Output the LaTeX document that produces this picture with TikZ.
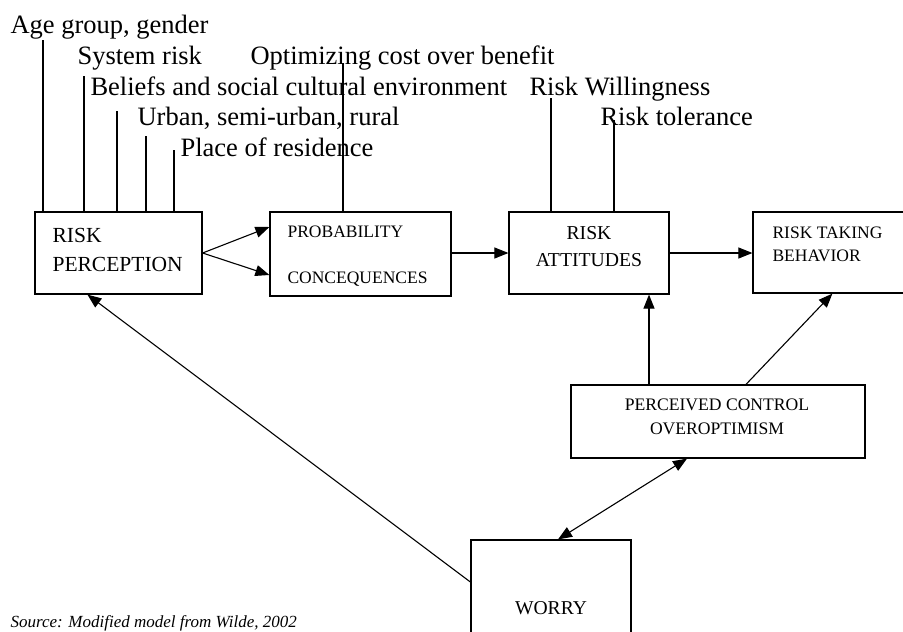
\documentclass[tikz,border=0pt]{standalone}
\usepackage{fontspec}
\setmainfont{Liberation Serif}
\usetikzlibrary{arrows.meta, positioning}
\tikzstyle{block} = [draw, line width=1.2pt, inner sep=0pt]
\tikzstyle{arrow} = [line width=1.1pt, -{Triangle[length=14pt,width=11pt]}]
\tikzstyle{factor} = [anchor=base west, inner sep=0pt, font=\fontsize{26.5}{30}\selectfont]
\tikzstyle{caps} = [inner sep=0pt, align=left]

\begin{document}
\begin{tikzpicture}[x=1pt,y=-1pt,line width=1.1pt]
\useasboundingbox (0,0) rectangle (903,632);
% boxes
\node[block, minimum width=167, minimum height=82] (rp) at (118.5,253) {};
\node[block, minimum width=181, minimum height=84] (prob) at (360.5,254) {};
\node[block, minimum width=160, minimum height=82] (ra) at (589,253) {};
\node[block, minimum width=197, minimum height=81] (rtb) at (851.5,252.5) {};
\node[block, minimum width=294, minimum height=73] (pc) at (718,421.5) {};
\node[block, minimum width=160, minimum height=160] (worry) at (551,620) {};
% box texts (base = last line)
\node[caps, anchor=base west, font=\fontsize{21.5}{29}\selectfont] (rptxt) at (52,271) {RISK\\PERCEPTION};
\node[caps, anchor=base west, font=\fontsize{17.5}{46}\selectfont] (probtxt) at (287,283) {PROBABILITY\\CONCEQUENCES};
\node[caps, anchor=base, align=center, font=\fontsize{19.7}{27}\selectfont] (ratxt) at (589,266.5) {RISK\\ATTITUDES};
\node[caps, anchor=base west, font=\fontsize{17.5}{23}\selectfont] (rtbtxt) at (772,261) {RISK TAKING\\BEHAVIOR};
\node[caps, anchor=base, align=center, font=\fontsize{17.6}{24}\selectfont] (pctxt) at (717,434) {PERCEIVED CONTROL\\OVEROPTIMISM};
\node[caps, anchor=base, font=\fontsize{19.6}{24}\selectfont] (worrytxt) at (551,614.5) {WORRY};
% factors
\node[factor] (age) at (10,33) {Age group, gender};
\node[factor] (sys) at (77,64) {System risk};
\node[factor] (opt) at (250,64) {Optimizing cost over benefit};
\node[factor] (bel) at (90,95) {Beliefs and social cultural environment};
\node[factor] (will) at (529,95) {Risk Willingness};
\node[factor] (urb) at (137,125) {Urban, semi-urban, rural};
\node[factor] (tol) at (600,125) {Risk tolerance};
\node[factor] (res) at (180,156) {Place of residence};
\node[anchor=base west, inner sep=0pt, font=\fontsize{17}{20}\selectfont\itshape] (src) at (10,627) {Source: Modified model from Wilde, 2002};
% lines from factors
\foreach \x/\y [count=\i] in {43/40, 84/76, 117/111, 146/136, 174/150} {
  \coordinate (t\i) at (\x,\y);
  \draw (t\i) -- (t\i |- rp.north);
}
\coordinate (topt) at (343,63);
\coordinate (twill) at (551,98);
\coordinate (ttol) at (614,120);
\draw (topt) -- (topt |- prob.north);
\draw (twill) -- (twill |- ra.north);
\draw (ttol) -- (ttol |- ra.north);
% arrows
\draw[arrow] (rp.east) -- ([yshift=27pt]prob.west);
\draw[arrow] (rp.east) -- ([yshift=-21pt]prob.west);
\draw[arrow] (ra.west -| prob.east) -- (ra.west);
\draw[arrow] (ra.east) -- (ra.east -| rtb.west);
\draw[arrow] ([xshift=-69pt]pc.north) -- ([xshift=-69pt]pc.north |- ra.south);
\draw[arrow] ([xshift=28pt]pc.north) -- ([xshift=80pt]rtb.south west);
\draw[arrow, {Triangle[length=14pt,width=11pt]}-{Triangle[length=14pt,width=11pt]}] ([xshift=7pt]worry.north) -- ([xshift=-31pt]pc.south);
\draw[arrow] ([yshift=38pt]worry.west) -- ([xshift=53pt]rp.south west);
\end{tikzpicture}
\end{document}
